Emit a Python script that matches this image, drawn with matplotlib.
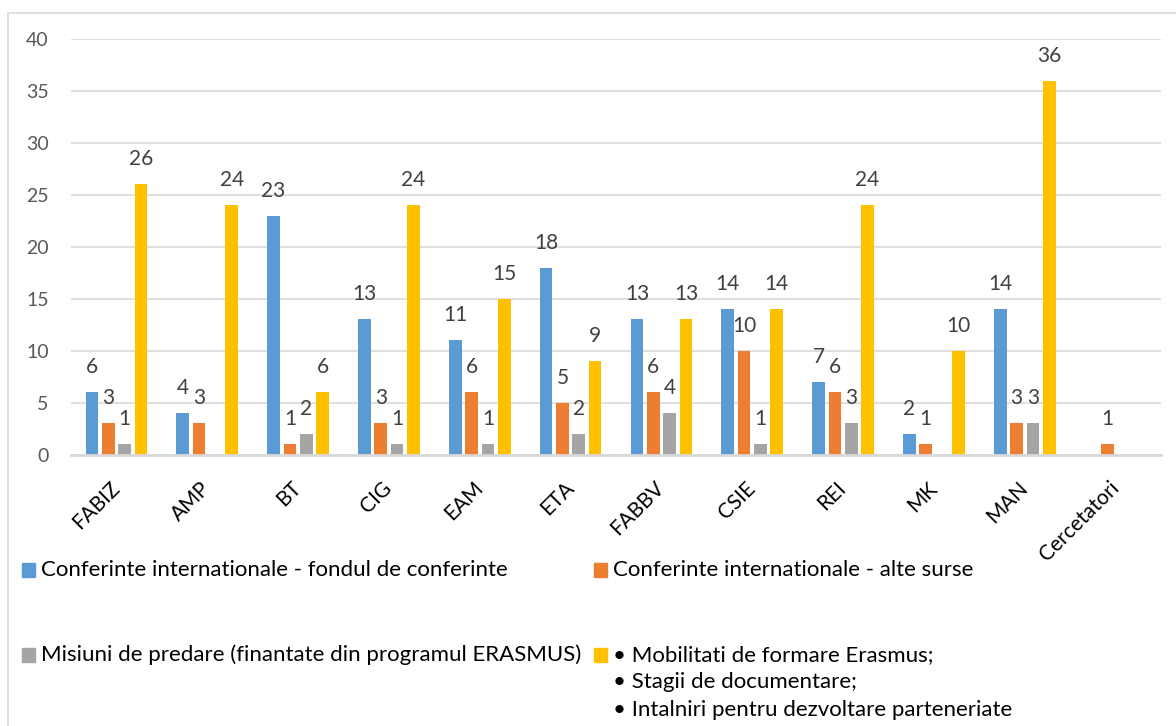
import numpy as np
import matplotlib
matplotlib.use("Agg")
import matplotlib.pyplot as plt
from matplotlib.patches import Rectangle

categories = ["FABIZ", "AMP", "BT", "CIG", "EAM", "ETA", "FABBV", "CSIE",
              "REI", "MK", "MAN", "Cercetatori"]
conf_fond = [6, 4, 23, 13, 11, 18, 13, 14, 7, 2, 14, 0]
conf_alte = [3, 3, 1, 3, 6, 5, 6, 10, 6, 1, 3, 1]
misiuni = [1, 0, 2, 1, 1, 2, 4, 1, 3, 0, 3, 0]
mobilitati = [26, 24, 6, 24, 15, 9, 13, 14, 24, 10, 36, 0]

series = [conf_fond, conf_alte, misiuni, mobilitati]
colors = ["#5B9BD5", "#ED7D31", "#A5A5A5", "#FFC000"]
labels = [
    "Conferinte internationale - fondul de conferinte",
    "Conferinte internationale - alte surse",
    "Misiuni de predare (finantate din programul ERASMUS)",
    "\u2022 Mobilitati de formare Erasmus;\n\u2022 Stagii de documentare;\n"
    "\u2022 Intalniri pentru dezvoltare parteneriate",
]

plt.rcParams["font.family"] = ["Lato", "DejaVu Sans"]

W, H = 1176, 726
fig = plt.figure(figsize=(W / 100, H / 100), dpi=100)


def fx(x):
    return x / W


def fy(y):
    return 1 - y / H


ax = fig.add_axes([fx(71), fy(454.5), fx(1161 - 71), (454.5 - 39) / H])

x = np.arange(len(categories))
width = 0.14
step = 0.18
for i, (vals, col) in enumerate(zip(series, colors)):
    pos = x + (i - 1.5) * step
    ax.bar(pos, vals, width, color=col, zorder=3)
    for p, v in zip(pos, vals):
        if v:
            ax.annotate(str(v), (p, v), xytext=(0, 18), textcoords="offset points",
                        ha="center", va="center", fontsize=15, color="#404040")

ax.set_xlim(-0.5, len(categories) - 0.5)
ax.set_ylim(0, 40)
ax.set_yticks(range(0, 41, 5))
ax.yaxis.grid(True, color="#d9d9d9", lw=1.2, zorder=0)
for s in ["top", "right", "left"]:
    ax.spines[s].set_visible(False)
ax.spines["bottom"].set_color("#d9d9d9")
ax.spines["bottom"].set_linewidth(2)
ax.spines["bottom"].set_zorder(4)
ax.tick_params(axis="y", length=0, pad=16, labelsize=14, labelcolor="#595959")
ax.tick_params(axis="x", length=0, pad=22, labelsize=15, labelcolor="#000000")
ax.set_xticks(x)
ax.set_xticklabels(categories, rotation=45, ha="right", va="center",
                   rotation_mode="anchor")

# outer chart frame
fig.patches.append(Rectangle((fx(8), fy(740)), fx(1200), (740 - 13) / H,
                             transform=fig.transFigure, fill=False,
                             edgecolor="#d9d9d9", lw=1.2))

# legend, laid out by hand like the source
legend_pos = [(22, 570), (594, 570), (22, 655), (594, 655)]
for (lx, ly), col, lab in zip(legend_pos, colors, labels):
    fig.patches.append(Rectangle((fx(lx), fy(ly + 7)), fx(13), 14 / H,
                                 transform=fig.transFigure, color=col))
    lines = lab.split("\n")
    for k, line in enumerate(lines):
        fig.text(fx(lx + 19), fy(ly + k * 27.5), line, fontsize=16,
                 ha="left", va="center", color="#000000")

fig.savefig("out.png", dpi=100)
